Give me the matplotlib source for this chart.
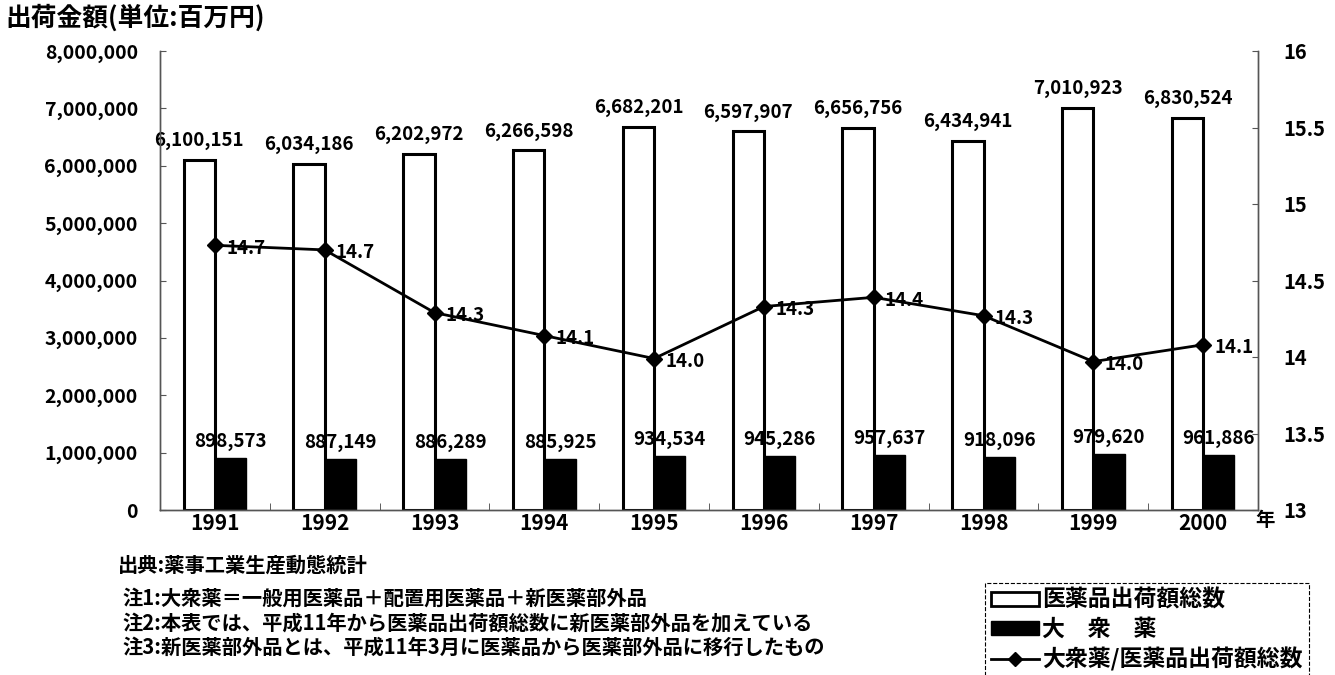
import numpy as np
import matplotlib.pyplot as plt
from matplotlib.patches import Patch
from matplotlib.lines import Line2D
from matplotlib.ticker import FuncFormatter, FixedLocator

plt.rcParams['font.family'] = ['Noto Sans CJK JP', 'DejaVu Sans']
plt.rcParams['font.weight'] = 'bold'

# data
years = ['1991', '1992', '1993', '1994', '1995', '1996', '1997', '1998', '1999', '2000']
total_shipments = [6100151, 6034186, 6202972, 6266598, 6682201,
                   6597907, 6656756, 6434941, 7010923, 6830524]
otc_shipments = [898573, 887149, 886289, 885925, 934534,
                 945286, 957637, 918096, 979620, 961886]
otc_ratio = [14.73, 14.70, 14.29, 14.14, 13.99, 14.33, 14.39, 14.27, 13.97, 14.08]
right_ticks = [13, 13.5, 14, 14.5, 15, 15.5, 16]
right_tick_labels = ['13', '13.5', '14', '14.5', '15', '15.5', '16']

notes = ['出典:薬事工業生産動態統計',
         '注1:大衆薬＝一般用医薬品＋配置用医薬品＋新医薬部外品',
         '注2:本表では、平成11年から医薬品出荷額総数に新医薬部外品を加えている',
         '注3:新医薬部外品とは、平成11年3月に医薬品から医薬部外品に移行したもの']

fig = plt.figure(figsize=(13.35, 6.75), dpi=100)
ax = fig.add_axes([160 / 1335, 1 - 510 / 675, 1098 / 1335, 459 / 675])

x = np.arange(len(years))
w = 0.285
ax.bar(x - w / 2, total_shipments, w, facecolor='white', edgecolor='black', linewidth=2.2, zorder=2)
ax.bar(x + w / 2, otc_shipments, w, facecolor='black', edgecolor='black', linewidth=1, zorder=2)

for xi, v in zip(x, total_shipments):
    ax.annotate(f'{v:,}', (xi - w / 2, v), xytext=(0, 7), textcoords='offset points',
                ha='center', va='bottom', fontsize=13.5)
for xi, v in zip(x, otc_shipments):
    ax.annotate(f'{v:,}', (xi + w / 2, v), xytext=(0, 5), textcoords='offset points',
                ha='center', va='bottom', fontsize=13.5)

ax.set_xlim(-0.5, len(years) - 0.5)
ax.set_ylim(0, 8000000)
ax.set_yticks(np.arange(0, 8000001, 1000000))
ax.yaxis.set_major_formatter(FuncFormatter(lambda v, p: f'{int(v):,}'))
ax.set_xticks(x)
ax.set_xticklabels(years, fontsize=15)
ax.tick_params(axis='x', length=0, pad=2)
ax.xaxis.set_minor_locator(FixedLocator(np.arange(0.5, len(years) - 1, 1)))
ax.tick_params(axis='x', which='minor', direction='in', length=5, color='#444')
ax.tick_params(axis='y', direction='in', length=4, labelsize=14, pad=16, color='#555')

ax2 = ax.twinx()
ax2.plot(x, otc_ratio, color='black', linewidth=2, marker='D', markersize=8, zorder=3)
for xi, v in zip(x, otc_ratio):
    ax2.annotate(f'{v:.1f}', (xi, v), xytext=(8, -2), textcoords='offset points',
                 ha='left', va='center', fontsize=13.5)
ax2.set_ylim(13, 16)
ax2.set_yticks(right_ticks)
ax2.set_yticklabels(right_tick_labels)
ax2.tick_params(axis='y', direction='in', length=4, labelsize=14.5, pad=18, color='#555')

for a in (ax, ax2):
    a.spines['top'].set_visible(False)
    for s in ('left', 'right', 'bottom'):
        a.spines[s].set_color('#555')
        a.spines[s].set_linewidth(1)

fig.text(5 / 1335, 1 - 18 / 675, '出荷金額(単位:百万円)', fontsize=18.5, ha='left', va='center')
fig.text(1255 / 1335, 1 - 521 / 675, '年', fontsize=14, ha='left', va='center')

note_y = [565, 598, 623, 647]
note_x = [118, 122, 122, 122]
for t, nx, ny in zip(notes, note_x, note_y):
    fig.text(nx / 1335, 1 - ny / 675, t, fontsize=14.6, ha='left', va='center')

handles = [Patch(facecolor='white', edgecolor='black', linewidth=2),
           Patch(facecolor='black', edgecolor='black'),
           Line2D([0], [0], color='black', linewidth=2, marker='D', markersize=7)]
labels = ['医薬品出荷額総数', '大\u3000衆\u3000薬', '大衆薬/医薬品出荷額総数']
leg = fig.legend(handles, labels, loc='upper left',
                 bbox_to_anchor=(985 / 1335, 1 - 583 / 675), borderaxespad=0,
                 fontsize=16.5, handlelength=2.1, handleheight=0.55, handletextpad=0.15,
                 labelspacing=0.28, borderpad=0.25, fancybox=False, framealpha=1)
leg.get_frame().set_edgecolor('black')
leg.get_frame().set_linestyle('--')
leg.get_frame().set_linewidth(0.8)

fig.savefig('out.png', dpi=100)
